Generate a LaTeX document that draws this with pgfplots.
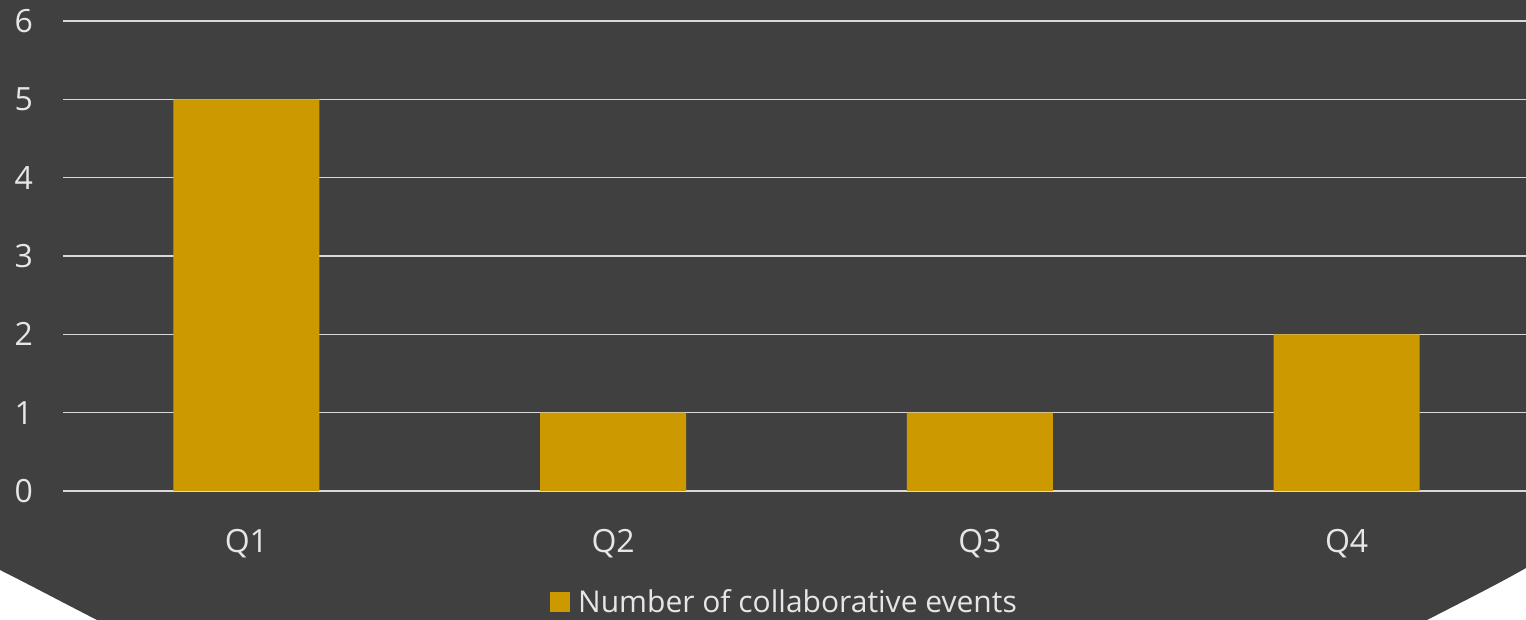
\documentclass[border=0pt]{standalone}
\usepackage{pgfplots}
\pgfplotsset{compat=1.18}
\usetikzlibrary{calc,backgrounds}
\usepackage{fontspec}
\setmainfont{Open Sans}
\definecolor{bg}{HTML}{404040}
\definecolor{gold}{HTML}{CC9900}
\definecolor{txt}{HTML}{E6E6E6}
\definecolor{gridc}{HTML}{D9D9D9}
\begin{document}
\begin{tikzpicture}[x=1pt,y=1pt]
\begin{axis}[
    scale only axis,
    width=733.5pt, height=235pt,
    ybar, bar width=73pt,
    xmin=-0.5, xmax=3.5,
    ymin=0, ymax=6,
    xtick=data,
    xticklabels={Q1,Q2,Q3,Q4},
    ytick={0,1,2,3,4,5,6},
    ymajorgrids,
    grid style={gridc, line width=0.75pt},
    axis line style={draw=none},
    major tick style={draw=none},
    ticklabel style={font=\fontsize{16}{19}\selectfont, text=txt},
    /pgf/number format/assume math mode=true,
    yticklabel style={xshift=-11.5pt},
    xticklabel style={yshift=-11.5pt},
    legend style={at={(0.4925,-0.237)}, anchor=center, draw=none, fill=none,
      font=\fontsize{15}{18}\selectfont, text=txt},
    legend image code/.code={\fill[gold] (0pt,-5pt) rectangle (10pt,5pt);
      \path (12pt,0pt);},
]
\addplot[fill=gold, draw=none] coordinates {(0,5) (1,1) (2,1) (3,2)};
\addlegendentry{Number of collaborative events}
\coordinate (o) at (rel axis cs:0,0);
\end{axis}
% page frame and background panel with cut bottom corners
\coordinate (pg) at ($(o)+(-31.5,-64.5)$);
\pgfresetboundingbox
\path[use as bounding box] (pg) rectangle ++(763,310);
\begin{scope}[on background layer, shift={(pg)}]
\fill[bg] (0,310) -- (0,25) .. controls (14,18) and (30,9.5) .. (48.5,0)
  -- (713.5,0) .. controls (732,9.5) and (749,18) .. (763,26) -- (763,310) -- cycle;
\end{scope}
\end{tikzpicture}
\end{document}
